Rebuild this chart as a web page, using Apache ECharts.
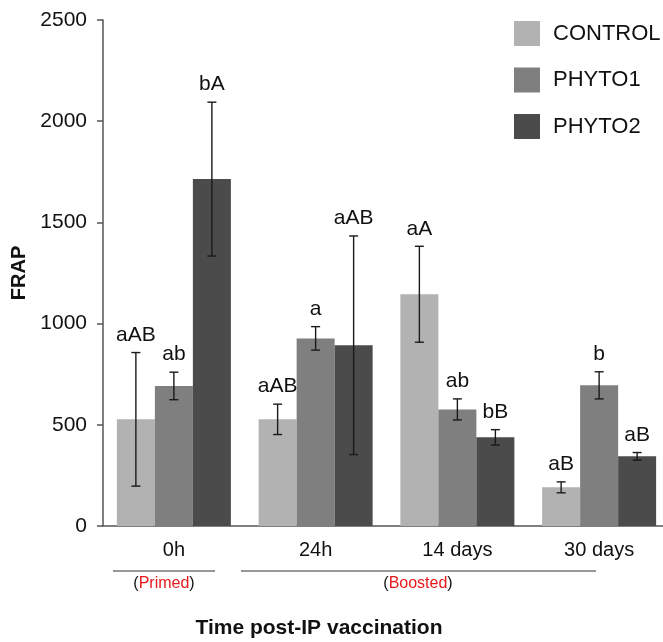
<!DOCTYPE html>
<html><head><meta charset="utf-8">
<script src="https://cdn.jsdelivr.net/npm/echarts@6/dist/echarts.min.js"></script>
<style>html,body{margin:0;padding:0;background:#fff}#c{width:663px;height:642px}</style>
</head><body><div id="c"></div>
<script>
const categories = ['0h', '24h', '14 days', '30 days'];
const seriesNames = ['CONTROL', 'PHYTO1', 'PHYTO2'];
const control = [527, 527, 1145, 191];
const phyto1 = [692, 927, 576, 695];
const phyto2 = [1714, 893, 438, 344];
const controlErr = [330, 75, 237, 27];
const phyto1Err = [68, 58, 52, 67];
const phyto2Err = [380, 540, 38, 19];
const controlLetters = ['aAB', 'aAB', 'aA', 'aB'];
const phyto1Letters = ['ab', 'a', 'ab', 'b'];
const phyto2Letters = ['bA', 'aAB', 'bB', 'aB'];
const yTicks = [0, 500, 1000, 1500, 2000, 2500];

const colors = ['#b2b2b2', '#7f7f7f', '#4b4b4b'];
const means = [control, phyto1, phyto2];
const errs = [controlErr, phyto1Err, phyto2Err];
const letters = [controlLetters, phyto1Letters, phyto2Letters];
const BW = 38;
const FONT = 'Liberation Sans, Arial, sans-serif';

const chart = echarts.init(document.getElementById('c'));
const series = [];
means.forEach((m, i) => {
  series.push({
    name: seriesNames[i], type: 'bar', data: m, barWidth: BW, barGap: '0%',
    itemStyle: { color: colors[i] }, animation: false
  });
});
means.forEach((m, i) => {
  series.push({
    type: 'custom', animation: false, silent: true, z: 5,
    data: m.map((v, j) => [j, v, errs[i][j]]),
    renderItem: function (params, api) {
      const x = api.value(0), v = api.value(1), e = api.value(2);
      const top = api.coord([x, v + e]);
      const bot = api.coord([x, v - e]);
      const cx = top[0] + (i - 1) * BW;
      const cap = 4.5;
      const st = { stroke: '#1a1a1a', lineWidth: 1.4 };
      return {
        type: 'group', children: [
          { type: 'line', shape: { x1: cx, y1: top[1], x2: cx, y2: bot[1] }, style: st },
          { type: 'line', shape: { x1: cx - cap, y1: top[1], x2: cx + cap, y2: top[1] }, style: st },
          { type: 'line', shape: { x1: cx - cap, y1: bot[1], x2: cx + cap, y2: bot[1] }, style: st },
          { type: 'text', x: cx, y: top[1] - 7, style: {
              text: letters[i][params.dataIndex], font: '21px ' + FONT, fill: '#111',
              align: 'center', verticalAlign: 'bottom' } }
        ]
      };
    }
  });
});

chart.setOption({
  animation: false,
  textStyle: { fontFamily: FONT },
  grid: { left: 103, width: 567, top: 20, bottom: 116, containLabel: false, outerBoundsMode: 'none' },
  legend: {
    orient: 'vertical', left: 514, top: 21, padding: 0, itemWidth: 26, itemHeight: 25, itemGap: 21.5,
    data: seriesNames, icon: 'rect',
    textStyle: { fontSize: 22, color: '#111', fontFamily: FONT, padding: [0, 0, 0, 8] }
  },
  xAxis: {
    type: 'category', data: categories,
    axisLine: { lineStyle: { color: '#555', width: 1.5 } },
    axisTick: { show: false },
    axisLabel: { fontSize: 20, color: '#111', margin: 14, fontFamily: FONT }
  },
  yAxis: {
    type: 'value', min: 0, max: 2500, interval: 500,
    name: 'FRAP', nameLocation: 'middle', nameGap: 73, nameRotate: 90,
    nameTextStyle: { fontSize: 20, fontWeight: 'bold', color: '#111', fontFamily: FONT },
    axisLine: { show: true, lineStyle: { color: '#555', width: 1.5 } },
    axisTick: { show: true, length: 6, lineStyle: { color: '#555', width: 1.5 } },
    axisLabel: { fontSize: 21, color: '#111', margin: 16, fontFamily: FONT,
      formatter: v => yTicks.includes(v) ? String(v) : '' },
    splitLine: { show: false }
  },
  series: series,
  graphic: [
    { type: 'line', shape: { x1: 113, y1: 571, x2: 215, y2: 571 }, style: { stroke: '#333', lineWidth: 1.2 } },
    { type: 'line', shape: { x1: 241, y1: 571, x2: 596, y2: 571 }, style: { stroke: '#333', lineWidth: 1.2 } },
    { type: 'text', x: 164, y: 584, style: { text: '{p|(}{r|Primed}{p|)}', align: 'center', verticalAlign: 'middle',
        rich: { p: { fontSize: 16, fill: '#111', fontFamily: FONT }, r: { fontSize: 16, fill: '#e8191b', fontFamily: FONT } } } },
    { type: 'text', x: 418, y: 584, style: { text: '{p|(}{r|Boosted}{p|)}', align: 'center', verticalAlign: 'middle',
        rich: { p: { fontSize: 16, fill: '#111', fontFamily: FONT }, r: { fontSize: 16, fill: '#e8191b', fontFamily: FONT } } } },
    { type: 'text', x: 319, y: 628, style: { text: 'Time post-IP vaccination', align: 'center', verticalAlign: 'middle',
        font: 'bold 21px ' + FONT, fill: '#111' } }
  ]
});
</script></body></html>
